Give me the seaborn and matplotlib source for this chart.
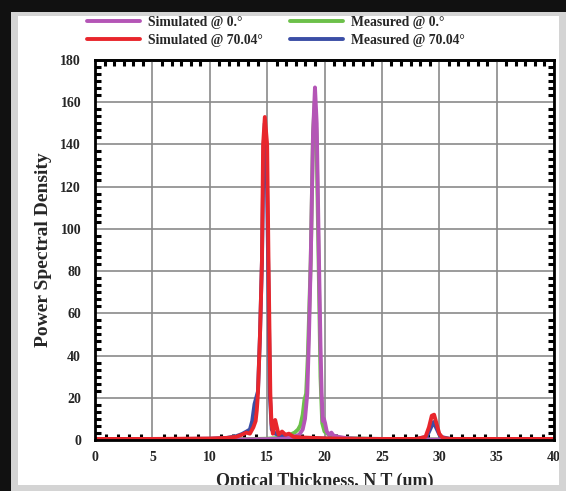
import numpy as np
import pandas as pd
import seaborn as sns
import matplotlib.pyplot as plt
from matplotlib.patches import Rectangle
from matplotlib.ticker import MultipleLocator, AutoMinorLocator

# hand-read points from the reference curves
sim70_x = [0, 5, 10, 11.5, 12.3, 12.8, 13.2, 13.5, 13.8, 14.0, 14.1, 14.2, 14.38, 14.55, 14.65, 14.8,
           15.0, 15.12, 15.28, 15.38, 15.5, 15.7, 15.85, 16.0, 16.3, 16.6, 16.9, 17.3, 18, 19, 20, 22, 25,
           28, 28.8, 29.1, 29.35, 29.55, 29.75, 30.0, 30.3, 31, 35, 40]
sim70_y = [0.5, 0.5, 0.7, 1.0, 1.5, 2.5, 3.5, 3.0, 6, 9, 14, 22, 50, 85, 140, 153,
           140, 85, 22, 8, 3, 9.5, 6, 2.5, 4, 2.5, 3, 1.5, 1.2, 1.0, 0.8, 0.6, 0.5,
           0.5, 1.5, 6, 11.5, 12, 8, 3, 1, 0.5, 0.5, 0.5]

meas70_x = [0, 5, 10, 11.5, 12.3, 12.8, 13.2, 13.5, 13.7, 13.9, 14.05, 14.2, 14.38, 14.55, 14.7, 14.8,
            14.95, 15.1, 15.25, 15.4, 15.7, 16.2, 17, 18, 20, 25, 28, 28.9, 29.2, 29.5, 29.8, 30.1, 31, 35, 40]
meas70_y = [0.4, 0.4, 0.6, 1.0, 1.8, 2.8, 4.0, 5, 9, 17, 20, 23, 50, 85, 140, 150,
            135, 80, 20, 5, 3, 2, 1.5, 1.0, 0.7, 0.5, 0.5, 1.5, 5, 8.5, 5, 1.5, 0.5, 0.4, 0.4]

sim0_x = [0, 5, 10, 13, 15, 16.5, 17.3, 17.8, 18.1, 18.3, 18.5, 18.65, 18.8, 19.0, 19.17, 19.32,
          19.52, 19.65, 19.75, 19.85, 19.95, 20.05, 20.2, 20.4, 20.6, 20.8, 21.2, 22, 23, 25, 30, 35, 40]
sim0_y = [0.2, 0.2, 0.2, 0.3, 0.4, 0.6, 1.5, 2.5, 5, 10, 22, 50, 85, 145, 167, 150,
          85, 45, 22, 9, 10, 8, 4, 2.5, 3.5, 2, 1.5, 0.8, 0.5, 0.3, 0.2, 0.2, 0.2]

meas0_x = [0, 5, 10, 13, 15, 16.5, 17.0, 17.4, 17.7, 17.9, 18.1, 18.25, 18.4, 18.55, 18.8, 19.0,
           19.15, 19.3, 19.5, 19.65, 19.8, 20.0, 20.5, 21, 22, 25, 30, 35, 40]
meas0_y = [0.3, 0.3, 0.3, 0.4, 0.6, 1.2, 2.5, 3.5, 5, 7, 12, 19, 22, 40, 85, 145,
           160, 145, 80, 30, 8, 4, 2, 1.2, 0.8, 0.4, 0.3, 0.3, 0.3]

series = [
    ("Measured @ 0.\u00b0", meas0_x, meas0_y, "#6cc04a"),
    ("Measured @ 70.04\u00b0", meas70_x, meas70_y, "#3b4ea6"),
    ("Simulated @ 0.\u00b0", sim0_x, sim0_y, "#b455b6"),
    ("Simulated @ 70.04\u00b0", sim70_x, sim70_y, "#e8262c"),
]

sns.set_style("white")
plt.rcParams['font.family'] = ['Liberation Serif', 'DejaVu Serif']
plt.rcParams['font.weight'] = 'bold'

fig = plt.figure(figsize=(5.66, 4.91), dpi=100, facecolor="white")
ax = fig.add_axes([95 / 566, 1 - 440 / 491, (554 - 95) / 566, (440 - 60) / 491])

handles = {}
for name, xs, ys, col in series:
    df = pd.DataFrame({"x": xs, "y": ys})
    sns.lineplot(data=df, x="x", y="y", ax=ax, color=col, lw=2.8, sort=False,
                 estimator=None, label=name, zorder=3)
    handles[name] = ax.get_lines()[-1]

ax.set_xlim(0, 40)
ax.set_ylim(0, 180)
ax.xaxis.set_major_locator(MultipleLocator(5))
ax.yaxis.set_major_locator(MultipleLocator(20))
ax.xaxis.set_minor_locator(MultipleLocator(1))
ax.yaxis.set_minor_locator(AutoMinorLocator(6))
ax.grid(True, which="major", color="#8a8a8a", lw=1.2, zorder=1)
ax.set_axisbelow(True)
ax.tick_params(which="major", length=0, labelsize=10)
ax.tick_params(axis="x", which="major", pad=8)
ax.tick_params(axis="y", which="major", pad=10)
ax.tick_params(which="minor", direction="in", length=4, width=2.2, color="black",
               left=True, bottom=True, right=True, top=False)
for sp in ax.spines.values():
    sp.set_color("black")
    sp.set_linewidth(2)
    sp.set_zorder(4)

top = ax.secondary_xaxis("top")
top.xaxis.set_major_locator(MultipleLocator(5))
top.xaxis.set_minor_locator(AutoMinorLocator(6))
top.tick_params(which="major", length=0, labeltop=False)
top.tick_params(which="minor", direction="in", length=4, width=2.2, color="black")
top.spines["top"].set_linewidth(2)

ax.set_xlabel("Optical Thickness, N T (um)", fontsize=13, fontweight="bold", labelpad=6)
ax.set_ylabel("Power Spectral Density", fontsize=14, fontweight="bold", labelpad=6)

order = ["Simulated @ 0.\u00b0", "Simulated @ 70.04\u00b0", "Measured @ 0.\u00b0", "Measured @ 70.04\u00b0"]
ax.legend([handles[k] for k in order], order, ncol=2, frameon=False, fontsize=9.8,
          handlelength=3.9, columnspacing=2.0, labelspacing=0.35, handletextpad=0.6,
          loc="lower left", bbox_to_anchor=(-0.03, 1.02), borderaxespad=0)

# dark outer border and light grey frame of the screenshot
frame = [
    (0, 0, 11 / 566, 1, "#111111"),
    (0, 1 - 12 / 491, 1, 12 / 491, "#111111"),
    (11 / 566, 0, 7 / 566, 1 - 12 / 491, "#d4d4d4"),
    (559 / 566, 0, 7 / 566, 1 - 12 / 491, "#d4d4d4"),
    (11 / 566, 0, 555 / 566, 6 / 491, "#d4d4d4"),
    (11 / 566, 1 - 16 / 491, 555 / 566, 4 / 491, "#d4d4d4"),
]
for x0, y0, w, h, c in frame:
    fig.patches.append(Rectangle((x0, y0), w, h, transform=fig.transFigure,
                                 facecolor=c, edgecolor="none", zorder=10))

fig.savefig("out.png", dpi=100, facecolor=fig.get_facecolor())
